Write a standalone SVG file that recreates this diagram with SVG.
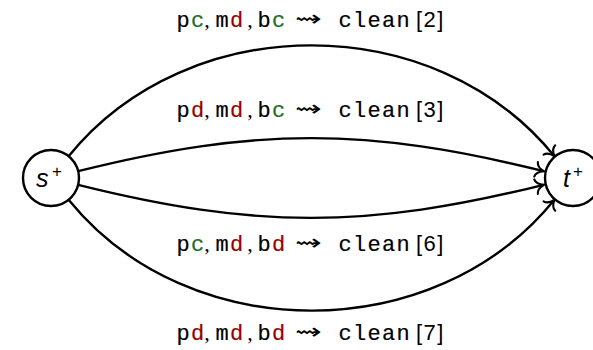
<svg xmlns="http://www.w3.org/2000/svg" width="593" height="350" viewBox="0 0 593 350">
<style>
.edge{fill:none;stroke:#000;stroke-width:2.4;marker-end:url(#to)}
.node{fill:#fff;stroke:#000;stroke-width:2.4}
.tt{font-family:"Liberation Mono",monospace;font-size:22px;text-anchor:middle;fill:#000;stroke:#000;stroke-width:0.2}
.cm{font-family:"Liberation Serif",serif;font-size:22px;text-anchor:middle;fill:#000}
.sq{font-family:"DejaVu Sans",sans-serif;font-weight:200;font-size:22px;text-anchor:middle;fill:#000}
.ref{font-family:"Liberation Sans",sans-serif;font-size:22px;letter-spacing:1.5px;fill:#000}
.g{fill:#1e6e1e;stroke:#1e6e1e}
.r{fill:#990000;stroke:#990000}
.lab{font-family:"Liberation Sans",sans-serif;font-style:italic;font-size:25px;fill:#000}
.sup{font-family:"Liberation Sans",sans-serif;font-size:17px;fill:#000}
</style>
<defs>
<marker id="to" markerUnits="userSpaceOnUse" markerWidth="20" markerHeight="20" viewBox="-12 -10 20 20" refX="0" refY="0" orient="auto" overflow="visible">
<path d="M -8,-7.5 C -7.5,-3 -2.5,-0.8 0,0 C -2.5,0.8 -7.5,3 -8,7.5" fill="none" stroke="#000" stroke-width="2.1" stroke-linecap="round"/>
</marker>
</defs>
<g id="connectors">
<path class="edge" d="M 68.6,156.2 C 188.3,8.4 434.7,8.4 554.4,156.2"/>
<path class="edge" d="M 78.2,171.2 C 255.1,127.1 366.9,127.1 543.8,171.2"/>
<path class="edge" d="M 78.2,184.8 C 255.1,228.9 366.9,228.9 543.8,184.8"/>
<path class="edge" d="M 68.6,199.8 C 188.3,347.6 434.7,347.6 554.4,199.8"/>
</g>
<g id="s">
<circle class="node" cx="51" cy="178" r="28"/>
<text class="lab" x="36" y="187">s</text><text class="sup" x="52" y="177">+</text>
</g>
<g id="t">
<circle class="node" cx="573" cy="178" r="28"/>
<text class="lab" x="563" y="187">t</text><text class="sup" x="573" y="177">+</text>
</g>
<g id="label2">
<text class="tt" x="183 197.5" y="27">p<tspan class="g">c</tspan></text>
<text class="cm" x="207" y="27">,</text>
<text class="tt" x="222 236.5" y="27">m<tspan class="r">d</tspan></text>
<text class="cm" x="250" y="27">,</text>
<text class="tt" x="264 278.5" y="27">b<tspan class="g">c</tspan></text>
<text class="sq" transform="translate(308.5,26) scale(1.45,1)">⇝</text>
<text class="tt" x="345 359.5 374 388.5 403" y="27">clean</text>
<text class="ref" x="416" y="27">[2]</text>
</g>
<g id="label3">
<text class="tt" x="183 197.5" y="117">p<tspan class="r">d</tspan></text>
<text class="cm" x="207" y="117">,</text>
<text class="tt" x="222 236.5" y="117">m<tspan class="r">d</tspan></text>
<text class="cm" x="250" y="117">,</text>
<text class="tt" x="264 278.5" y="117">b<tspan class="g">c</tspan></text>
<text class="sq" transform="translate(308.5,116) scale(1.45,1)">⇝</text>
<text class="tt" x="345 359.5 374 388.5 403" y="117">clean</text>
<text class="ref" x="416" y="117">[3]</text>
</g>
<g id="label6">
<text class="tt" x="183 197.5" y="251">p<tspan class="g">c</tspan></text>
<text class="cm" x="207" y="251">,</text>
<text class="tt" x="222 236.5" y="251">m<tspan class="r">d</tspan></text>
<text class="cm" x="250" y="251">,</text>
<text class="tt" x="264 278.5" y="251">b<tspan class="r">d</tspan></text>
<text class="sq" transform="translate(308.5,250) scale(1.45,1)">⇝</text>
<text class="tt" x="345 359.5 374 388.5 403" y="251">clean</text>
<text class="ref" x="416" y="251">[6]</text>
</g>
<g id="label7">
<text class="tt" x="183 197.5" y="340">p<tspan class="r">d</tspan></text>
<text class="cm" x="207" y="340">,</text>
<text class="tt" x="222 236.5" y="340">m<tspan class="r">d</tspan></text>
<text class="cm" x="250" y="340">,</text>
<text class="tt" x="264 278.5" y="340">b<tspan class="r">d</tspan></text>
<text class="sq" transform="translate(308.5,339) scale(1.45,1)">⇝</text>
<text class="tt" x="345 359.5 374 388.5 403" y="340">clean</text>
<text class="ref" x="416" y="340">[7]</text>
</g>
</svg>
